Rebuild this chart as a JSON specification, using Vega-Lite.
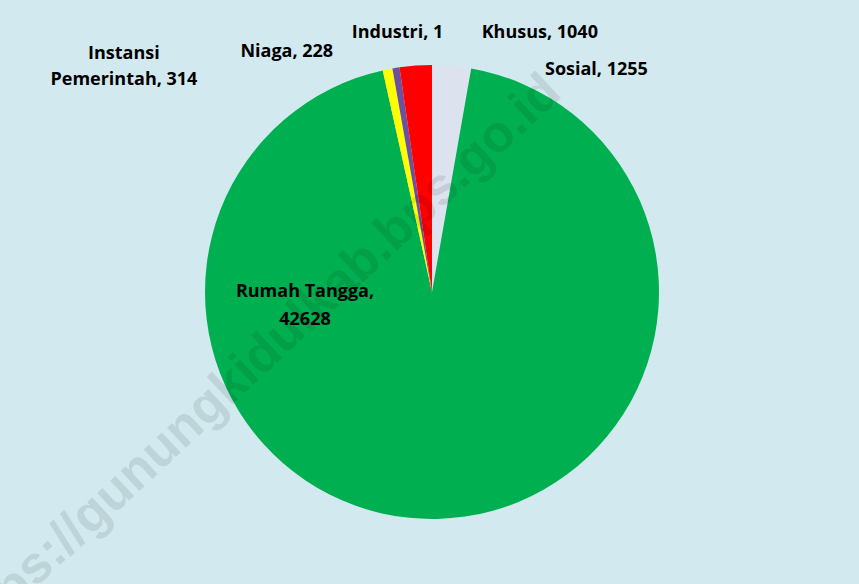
{
  "$schema": "https://vega.github.io/schema/vega-lite/v6.json",
  "width": 854,
  "height": 584,
  "autosize": {"type": "none"},
  "padding": {"left": 5, "right": 0, "top": 0, "bottom": 0},
  "background": "#d2eaef",
  "config": {"view": {"stroke": null}},
  "layer": [
    {
      "data": {
        "values": [
          {"kategori": "Sosial", "jumlah": 1255, "urutan": 1, "label": "Sosial, 1255"},
          {"kategori": "Rumah Tangga", "jumlah": 42628, "urutan": 2, "label": "Rumah Tangga,\n42628"},
          {"kategori": "Instansi Pemerintah", "jumlah": 314, "urutan": 3, "label": "Instansi\nPemerintah, 314"},
          {"kategori": "Niaga", "jumlah": 228, "urutan": 4, "label": "Niaga, 228"},
          {"kategori": "Industri", "jumlah": 1, "urutan": 5, "label": "Industri, 1"},
          {"kategori": "Khusus", "jumlah": 1040, "urutan": 6, "label": "Khusus, 1040"}
        ]
      },
      "transform": [
        {"stack": "jumlah", "groupby": [], "sort": [{"field": "urutan", "order": "ascending"}], "as": ["awal", "akhir"]}
      ],
      "layer": [
        {
          "mark": {"type": "arc", "outerRadius": 227},
          "encoding": {
            "theta": {"field": "awal", "type": "quantitative", "scale": {"domain": [0, 45466], "nice": false}},
            "theta2": {"field": "akhir"},
            "color": {
              "field": "kategori",
              "type": "nominal",
              "scale": {
                "domain": ["Sosial", "Rumah Tangga", "Instansi Pemerintah", "Niaga", "Industri", "Khusus"],
                "range": ["#dce3ef", "#00b050", "#ffff00", "#6f4fa0", "#4f81bd", "#ff0000"]
              },
              "legend": null
            }
          }
        },
        {
          "transform": [{"filter": "datum.kategori == 'Sosial'"}],
          "mark": {"type": "text", "radius": 240, "dx": 113, "dy": 18, "align": "left", "baseline": "middle", "font": "Open Sans", "fontSize": 18, "fontWeight": "bold", "color": "#000000", "lineBreak": "\n"},
          "encoding": {"theta": {"field": "awal", "type": "quantitative"}, "text": {"field": "label"}}
        },
        {
          "transform": [{"filter": "datum.kategori == 'Khusus'"}],
          "mark": {"type": "text", "radius": 240, "dx": 84, "dy": -21, "align": "left", "baseline": "middle", "font": "Open Sans", "fontSize": 18, "fontWeight": "bold", "color": "#000000", "lineBreak": "\n"},
          "encoding": {"theta": {"field": "awal", "type": "quantitative"}, "text": {"field": "label"}}
        },
        {
          "transform": [{"filter": "datum.kategori == 'Industri'"}],
          "mark": {"type": "text", "radius": 240, "dx": 0, "dy": -21, "align": "center", "baseline": "middle", "font": "Open Sans", "fontSize": 18, "fontWeight": "bold", "color": "#000000", "lineBreak": "\n"},
          "encoding": {"theta": {"field": "awal", "type": "quantitative"}, "text": {"field": "label"}}
        },
        {
          "transform": [{"filter": "datum.kategori == 'Niaga'"}],
          "mark": {"type": "text", "radius": 240, "dx": -57, "dy": -4, "align": "right", "baseline": "middle", "font": "Open Sans", "fontSize": 18, "fontWeight": "bold", "color": "#000000", "lineBreak": "\n"},
          "encoding": {"theta": {"field": "awal", "type": "quantitative"}, "text": {"field": "label"}}
        },
        {
          "transform": [{"filter": "datum.kategori == 'Instansi Pemerintah'"}],
          "mark": {"type": "text", "radius": 240, "dx": -256, "dy": -4, "align": "center", "baseline": "middle", "font": "Open Sans", "fontSize": 18, "fontWeight": "bold", "color": "#000000", "lineBreak": "\n", "lineHeight": 26},
          "encoding": {"theta": {"field": "awal", "type": "quantitative"}, "text": {"field": "label"}}
        },
        {
          "transform": [{"filter": "datum.kategori == 'Rumah Tangga'"}],
          "mark": {"type": "text", "radius": 0, "dx": -127, "dy": 0, "align": "center", "baseline": "middle", "font": "Open Sans", "fontSize": 18, "fontWeight": "bold", "color": "#000000", "lineBreak": "\n", "lineHeight": 28},
          "encoding": {"theta": {"field": "awal", "type": "quantitative"}, "text": {"field": "label"}}
        }
      ]
    },
    {
      "data": {"values": [{"teks": "https://gunungkidulkab.bps.go.id"}]},
      "mark": {"type": "text", "angle": -43, "dx": -180, "dy": -70, "align": "center", "baseline": "middle", "font": "Liberation Sans", "fontSize": 52, "fontWeight": "bold", "color": "#000000", "opacity": 0.09},
      "encoding": {"text": {"field": "teks"}}
    }
  ]
}
